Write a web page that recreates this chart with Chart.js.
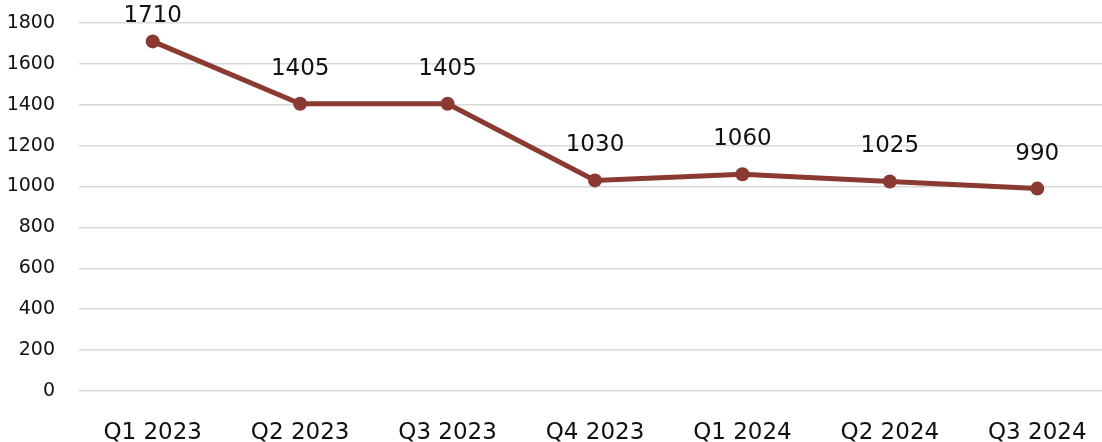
<!DOCTYPE html>
<html>
<head>
<meta charset="utf-8">
<script src="https://cdn.jsdelivr.net/npm/chart.js@4.4.4/dist/chart.umd.min.js"></script>
<style>
  html, body { margin: 0; padding: 0; background: #fff; overflow: hidden; }
  #chart { display: block; }
</style>
</head>
<body>
<canvas id="chart" width="1118" height="442" style="width:1118px;height:442px;max-width:none"></canvas>
<script>
// ─── Data ────────────────────────────────────────────────────────────────────
const quarters = ['Q1 2023', 'Q2 2023', 'Q3 2023', 'Q4 2023', 'Q1 2024', 'Q2 2024', 'Q3 2024'];
const values   = [1710, 1405, 1405, 1030, 1060, 1025, 990];
const yTicks   = [0, 200, 400, 600, 800, 1000, 1200, 1400, 1600, 1800];

const LINE_COLOR = '#8b3a32';
const FONT = "'DejaVu Sans', sans-serif";

// Value labels above each point (Excel-style, kept inside the chart area)
const pointLabels = {
  id: 'pointLabels',
  afterDatasetsDraw(chart) {
    const ctx = chart.ctx;
    const meta = chart.getDatasetMeta(0);
    ctx.save();
    ctx.font = '23px ' + FONT;
    ctx.fillStyle = '#111';
    ctx.textAlign = 'center';
    ctx.textBaseline = 'middle';
    meta.data.forEach((pt, i) => {
      const y = Math.max(pt.y - 35, 16);
      ctx.fillText(String(values[i]), pt.x, y);
    });
    ctx.restore();
  },
};

new Chart(document.getElementById('chart').getContext('2d'), {
  type: 'line',
  data: {
    labels: quarters,
    datasets: [{
      data: values,
      borderColor: LINE_COLOR,
      backgroundColor: LINE_COLOR,
      borderWidth: 5,
      pointRadius: 7,
      pointHoverRadius: 7,
      pointBorderWidth: 0,
      tension: 0,
    }],
  },
  options: {
    responsive: false,
    animation: false,
    layout: { padding: { top: 23, right: 0, bottom: 0, left: 0 } },
    scales: {
      x: {
        offset: true,
        grid: { display: false },
        border: { display: false },
        ticks: { color: '#111', font: { family: FONT, size: 23 }, padding: 20, maxRotation: 0 },
        afterFit: s => { s.height = 51; s.paddingLeft = 0; s.paddingRight = 0; },
      },
      y: {
        min: 0,
        max: 1800,
        afterBuildTicks: s => { s.ticks = yTicks.map(v => ({ value: v })); },
        grid: { color: '#d9d9d9', lineWidth: 1.5, drawTicks: false },
        border: { display: false },
        ticks: { color: '#111', font: { family: FONT, size: 19 }, padding: 24, callback: v => String(v) },
        afterFit: s => { s.width = 79; s.paddingTop = 0; s.paddingBottom = 0; },
      },
    },
    plugins: {
      legend: { display: false },
      tooltip: { enabled: false },
    },
  },
  plugins: [pointLabels],
});
</script>
</body>
</html>
